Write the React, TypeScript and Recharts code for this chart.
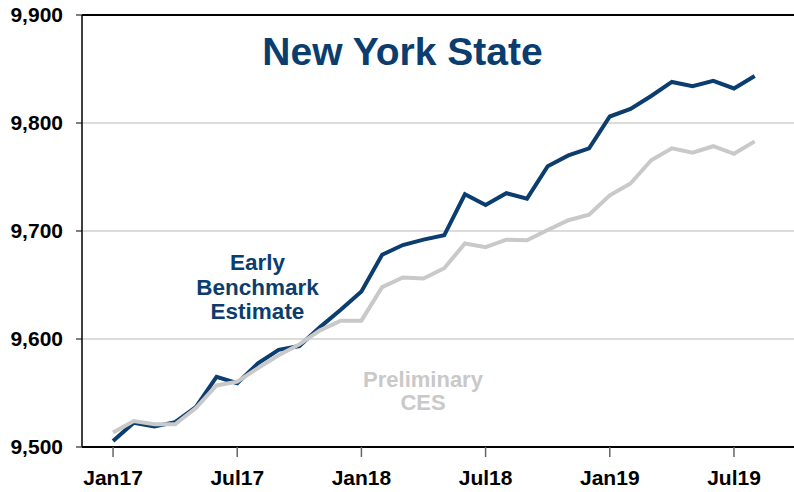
import { LineChart, Line, XAxis, YAxis, CartesianGrid, ReferenceLine } from "recharts";

// monthly labels, Jan17 .. Aug19
const months = [
  "Jan17", "Feb17", "Mar17", "Apr17", "May17", "Jun17", "Jul17", "Aug17", "Sep17", "Oct17", "Nov17", "Dec17",
  "Jan18", "Feb18", "Mar18", "Apr18", "May18", "Jun18", "Jul18", "Aug18", "Sep18", "Oct18", "Nov18", "Dec18",
  "Jan19", "Feb19", "Mar19", "Apr19", "May19", "Jun19", "Jul19", "Aug19",
];

// thousands of jobs
const earlyBenchmark = [
  9505.6, 9522.5, 9519, 9523, 9537, 9565, 9559, 9577.5, 9590, 9593.5, 9611, 9627,
  9644, 9678, 9687, 9692, 9696, 9734, 9724, 9735, 9730, 9760, 9770, 9776.5,
  9806, 9813, 9825, 9838, 9834, 9839, 9832, 9843.5,
];

const preliminaryCes = [
  9513.5, 9524, 9521, 9521, 9536, 9557, 9560.5, 9573, 9585, 9595, 9608, 9617,
  9617, 9648, 9657, 9656, 9665.5, 9688.5, 9685, 9692, 9691.5, 9701, 9710, 9715,
  9733, 9744, 9765.5, 9776.5, 9772.5, 9778.5, 9771.5, 9783,
];

const xTicks = [0, 6, 12, 18, 24, 30];
const yTicks = [9500, 9600, 9700, 9800, 9900];

const NAVY = "#0b3d6f";
const GRAY = "#c9c9c9";
const FONT = "'Liberation Sans', Arial, sans-serif";

const data = months.map((m, i) => ({
  i,
  month: m,
  early: earlyBenchmark[i],
  prelim: preliminaryCes[i],
}));

const tickStyle = { fontFamily: FONT, fontWeight: 700, fontSize: 21, fill: "#000" };

export default function App() {
  return (
    <div style={{ position: "absolute", left: 0, top: 0, width: 794, height: 492, background: "#fff" }}>
      <LineChart width={794} height={492} data={data} margin={{ top: 15, right: 0, left: 0, bottom: 0 }}>
        <CartesianGrid horizontal vertical={false} stroke="#d0d0d0" strokeWidth={1.5} />
        <ReferenceLine y={9900} stroke="#000" strokeWidth={2} />
        <XAxis
          dataKey="i"
          type="number"
          domain={[-1.5, 32.9]}
          allowDataOverflow
          ticks={xTicks}
          tickFormatter={(v: number) => months[v]}
          height={45}
          tickSize={10}
          tickMargin={13}
          axisLine={{ stroke: "#000", strokeWidth: 2 }}
          tickLine={{ stroke: "#666", strokeWidth: 1.5 }}
          tick={tickStyle}
        />
        <YAxis
          domain={[9500, 9900]}
          ticks={yTicks}
          width={82}
          tickSize={6}
          tickMargin={13}
          tickFormatter={(v: number) => v.toLocaleString("en-US")}
          axisLine={{ stroke: "#000", strokeWidth: 1.5 }}
          tickLine={{ stroke: "#000" }}
          tick={tickStyle}
        />
        <Line
          dataKey="early"
          stroke={NAVY}
          strokeWidth={4}
          dot={false}
          isAnimationActive={false}
        />
        <Line
          dataKey="prelim"
          stroke={GRAY}
          strokeWidth={4}
          dot={false}
          isAnimationActive={false}
        />
      </LineChart>
      <svg
        width={794}
        height={492}
        style={{ position: "absolute", left: 0, top: 0, pointerEvents: "none" }}
      >
        <text x={402.5} y={65} textAnchor="middle" fontFamily={FONT} fontWeight={700} fontSize={39} fill={NAVY}>
          New York State
        </text>
        <g fontFamily={FONT} fontWeight={700} fontSize={22.5} textAnchor="middle" fill={NAVY}>
          <text x={257.5} y={270}>Early</text>
          <text x={257.5} y={294.5}>Benchmark</text>
          <text x={257.5} y={319}>Estimate</text>
        </g>
        <g fontFamily={FONT} fontWeight={700} fontSize={22} textAnchor="middle" fill={GRAY}>
          <text x={423} y={386.5}>Preliminary</text>
          <text x={423} y={410}>CES</text>
        </g>
      </svg>
    </div>
  );
}
